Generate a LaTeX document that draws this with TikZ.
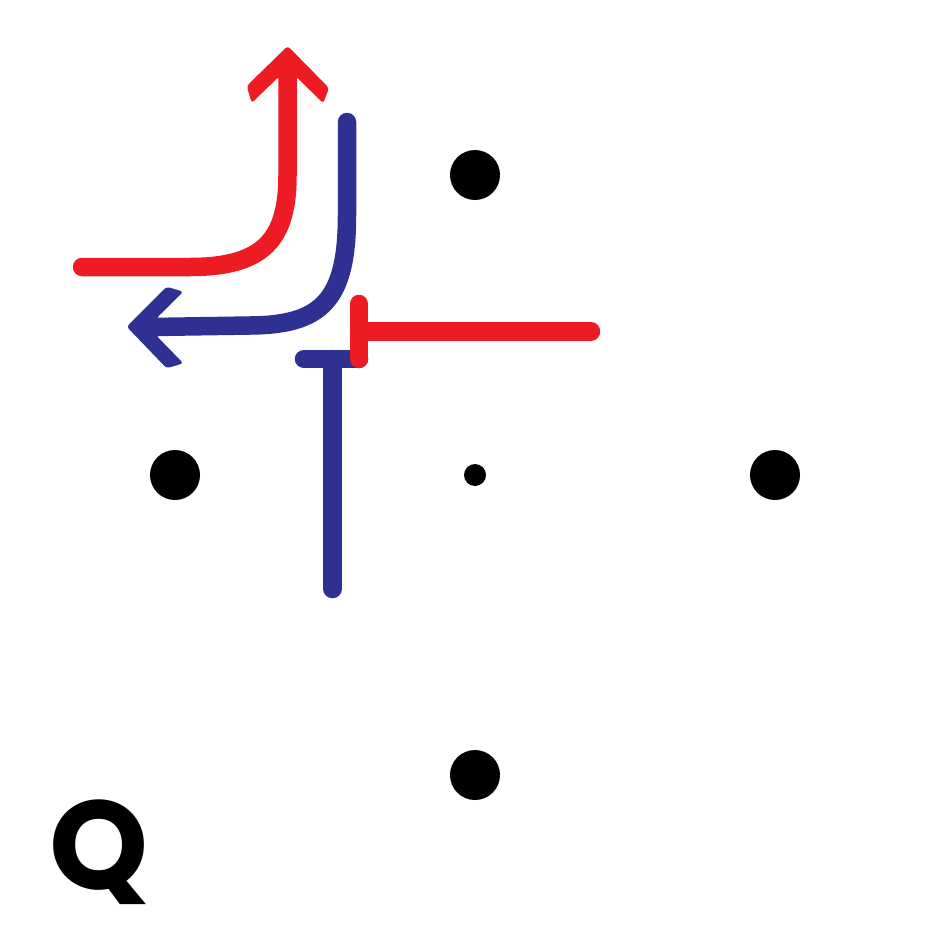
\documentclass[tikz,border=0pt]{standalone}
\usepackage{fontspec}
\setsansfont{Poppins}
\definecolor{myred}{HTML}{ED1C24}
\definecolor{myblue}{HTML}{2E3192}
\begin{document}
\begin{tikzpicture}[x=1pt,y=-1pt,
  redline/.style={draw=myred,line width=18.5pt,line cap=round},
  blueline/.style={draw=myblue,line width=18.5pt,line cap=round},
  bigdot/.style={circle,fill=black,inner sep=0pt,minimum size=50pt},
  smalldot/.style={circle,fill=black,inner sep=0pt,minimum size=22pt},
  headred/.style={fill=myred,rounded corners=3pt},
  headblue/.style={fill=myblue,rounded corners=3pt}]
\useasboundingbox (0,0) rectangle (950,950);
% dots
\node[bigdot] (top) at (475,175) {};
\node[bigdot] (left) at (175,475) {};
\node[smalldot] (center) at (475,475) {};
\node[bigdot] (right) at (775,475) {};
\node[bigdot] (bottom) at (475,775) {};
% coordinates
\coordinate (rs) at (82,267);
\coordinate (rt) at (287.5,75);
\coordinate (bs) at (347,122);
\coordinate (bt) at (152,327);
\coordinate (rhs) at (591,331.5);
\coordinate (rhe) at (359,331.5);
\coordinate (rbt) at (359,304);
\coordinate (rbb) at (359,359);
\coordinate (bvs) at (332.5,589);
\coordinate (bve) at (332.5,359);
\coordinate (bbl) at (304,359);
\coordinate (bbr) at (359,359);
% red curved arrow
\draw[redline] (rs) -- (190,267) .. controls (265,267) and (287.5,238) .. (287.5,175) -- (rt);
\fill[headred] (287.7,46) -- (246.7,86) -- (251.7,103) -- (278.5,77) -- (296.5,77) -- (323.3,103.3) -- (329,88) -- cycle;
% blue curved arrow
\draw[blueline] (bs) -- (347,215) .. controls (347,300) and (322,325) .. (250,325.5) -- (bt);
\fill[headblue] (126.7,326.7) -- (166.7,286.7) -- (183.3,291.7) -- (156.7,318) -- (156.7,336) -- (183.3,363.3) -- (166.7,368.3) -- cycle;
% blue T
\draw[blueline] (bvs) -- (bve);
\draw[blueline] (bbl) -- (bbr);
% red T
\draw[redline] (rhs) -- (rhe);
\draw[redline] (rbt) -- (rbb);
% label
\node[font=\sffamily\bfseries\fontsize{126}{126}\selectfont,inner sep=0pt] (q) at (99,852) {Q};
\end{tikzpicture}
\end{document}
